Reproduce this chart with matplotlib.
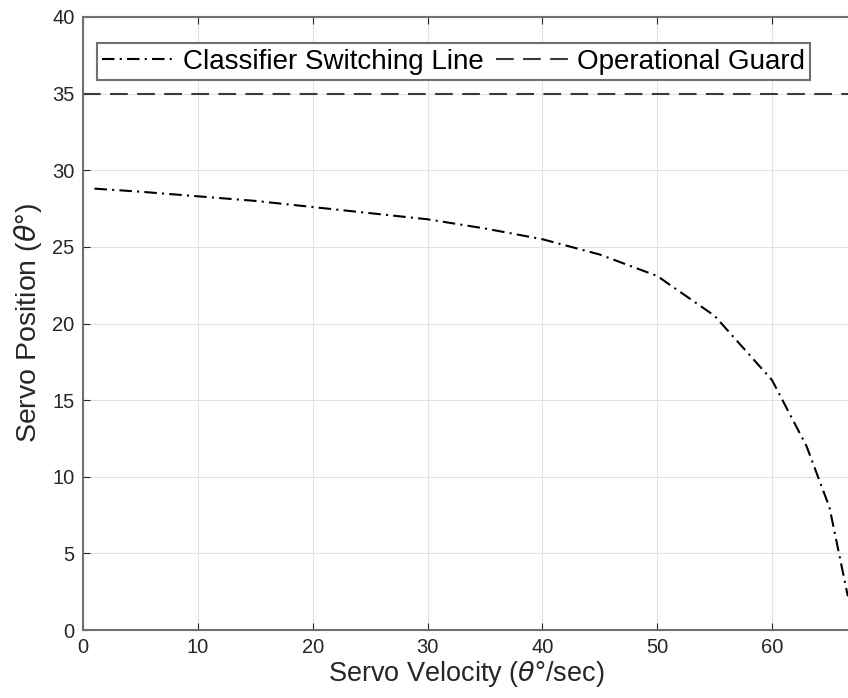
import matplotlib.pyplot as plt
import numpy as np

# datos de la curva
velocidad = [1, 5, 10, 15, 20, 25, 30, 35, 40, 45, 50, 55, 60, 63, 65, 66.6]
posicion = [28.8, 28.6, 28.3, 28.0, 27.6, 27.2, 26.8, 26.2, 25.5, 24.5, 23.1, 20.5, 16.3, 12.0, 8.0, 2.2]
guarda = 35
etiquetas = ['Classifier Switching Line', 'Operational Guard']

plt.rcParams['font.family'] = ['Liberation Sans', 'DejaVu Sans']

fig = plt.figure(figsize=(8.48, 6.98), dpi=100)
ax = fig.add_axes([83/848, 68/698, 766/848, 613/698])

ax.plot(velocidad, posicion, color='black', linestyle=(0, (6, 2.5, 1, 2.5)), lw=1.5, label=etiquetas[0])
ax.axhline(guarda, color='#3a3a3a', linestyle=(0, (8.5, 4.5)), lw=1.5, label=etiquetas[1])

ax.set_xlim(0, 66.7)
ax.set_ylim(0, 40)
ax.set_xticks(np.arange(0, 61, 10))
ax.set_yticks(np.arange(0, 41, 5))
ax.grid(True, color='#e2e2e2', lw=0.8)
ax.tick_params(direction='in', top=True, right=False, length=5, colors='#262626',
               labelsize=14.5, pad=6)
for s in ax.spines.values():
    s.set_color('#707070')
    s.set_linewidth(1.5)
ax.spines['right'].set_visible(False)

ax.set_xlabel(r'Servo Velocity ($\theta$°/sec)', fontsize=19.5, color='#262626', labelpad=1)
ax.set_ylabel(r'Servo Position ($\theta$°)', fontsize=20.5, color='#262626', labelpad=6)

leg = ax.legend(ncol=2, loc='upper left', bbox_to_anchor=(0.0, 0.98), fontsize=20,
                fancybox=False, framealpha=1, edgecolor='#707070', handlelength=2.6,
                columnspacing=0.45, handletextpad=0.3, borderpad=0.2)
leg.get_frame().set_linewidth(1.5)

fig.savefig('out.png', dpi=100)
